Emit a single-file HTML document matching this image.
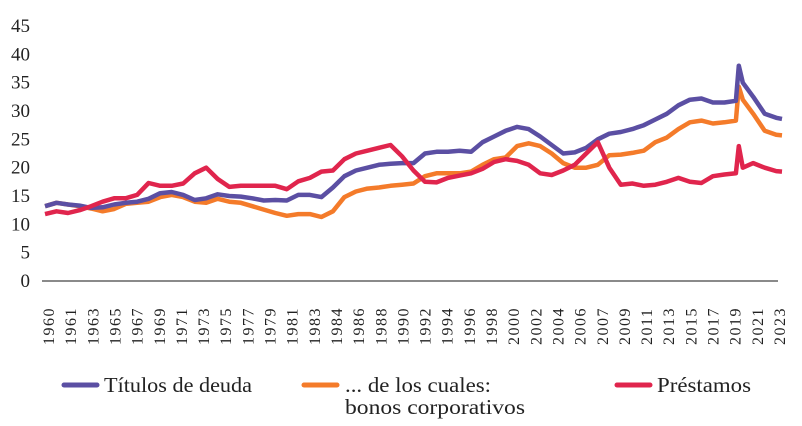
<!DOCTYPE html>
<html><head><meta charset="utf-8"><style>
body{margin:0;background:#fff;}
svg{display:block;font-family:"Liberation Serif",serif;}
</style></head><body>
<svg id="chart" width="802" height="426" viewBox="0 0 802 426">
<g id="yaxis"></g>
<g id="xaxis"></g>
<line x1="42" y1="281" x2="778" y2="281" stroke="#8a8a8a" stroke-width="2"/>
<g id="series"></g>
<g font-size="21" fill="#222">
<g>
<line x1="64" y1="385" x2="97" y2="385" stroke="#5b4fa3" stroke-width="5" stroke-linecap="round"/>
<text x="104" y="392" textLength="148" lengthAdjust="spacingAndGlyphs">Títulos de deuda</text></g>
<g>
<line x1="304" y1="385" x2="337" y2="385" stroke="#f47b2a" stroke-width="5" stroke-linecap="round"/>
<text x="345" y="392" textLength="146" lengthAdjust="spacingAndGlyphs">... de los cuales:</text>
<text x="345" y="414" textLength="180" lengthAdjust="spacingAndGlyphs">bonos corporativos</text></g>
<g>
<line x1="617" y1="385" x2="650" y2="385" stroke="#e0254d" stroke-width="5" stroke-linecap="round"/>
<text x="657" y="392" textLength="94" lengthAdjust="spacingAndGlyphs">Préstamos</text></g>
</g>
</svg>
<script>
const yTicks=[0,5,10,15,20,25,30,35,40,45];
const xLabels=["1960","1961","1963","1965","1967","1969","1971","1973","1975","1977","1979","1981","1983","1984","1986","1988","1990","1992","1994","1996","1998","2000","2002","2004","2006","2007","2009","2011","2013","2015","2017","2019","2021","2023"];
const years=[1960,1961,1962,1963,1964,1965,1966,1967,1968,1969,1970,1971,1972,1973,1974,1975,1976,1977,1978,1979,1980,1981,1982,1983,1984,1985,1986,1987,1988,1989,1990,1991,1992,1993,1994,1995,1996,1997,1998,1999,2000,2001,2002,2003,2004,2005,2006,2007,2008,2009,2010,2011,2012,2013,2014,2015,2016,2017,2018,2019,2020,2020.25,2020.6,2021.5,2022.5,2023.5,2024];
const titulos=[13.2,13.8,13.5,13.3,12.9,13.0,13.5,13.8,14.0,14.5,15.5,15.7,15.2,14.3,14.6,15.3,15.0,14.9,14.6,14.2,14.3,14.2,15.2,15.2,14.8,16.5,18.5,19.5,20.0,20.5,20.7,20.8,20.8,22.5,22.8,22.8,23.0,22.8,24.5,25.5,26.5,27.2,26.8,25.5,24.0,22.5,22.7,23.5,25.0,26.0,26.3,26.8,27.5,28.5,29.5,31.0,32.0,32.2,31.5,31.5,31.8,38.0,35.0,32.5,29.5,28.8,28.6];
const bonos=[13.2,13.8,13.5,13.2,12.8,12.3,12.7,13.6,13.8,14.0,14.8,15.2,14.8,14.0,13.8,14.5,14.0,13.8,13.2,12.6,12.0,11.5,11.8,11.8,11.3,12.3,14.8,15.8,16.3,16.5,16.8,17.0,17.2,18.5,19.0,19.0,19.0,19.3,20.5,21.5,21.8,23.8,24.3,23.8,22.5,20.8,20.0,20.0,20.5,22.2,22.3,22.6,23.0,24.5,25.3,26.8,28.0,28.3,27.8,28.0,28.3,34.3,32.0,29.5,26.5,25.8,25.7];
const prestamos=[11.8,12.3,12.0,12.5,13.2,14.0,14.6,14.6,15.2,17.3,16.8,16.8,17.2,19.0,20.0,18.0,16.6,16.8,16.8,16.8,16.8,16.2,17.6,18.2,19.3,19.5,21.5,22.5,23.0,23.5,24.0,22.0,19.5,17.5,17.4,18.2,18.6,19.0,19.8,21.0,21.5,21.2,20.5,19.0,18.7,19.5,20.5,22.5,24.5,20.0,17.0,17.2,16.8,17.0,17.5,18.2,17.5,17.3,18.5,18.8,19.0,23.8,20.0,20.8,20.0,19.4,19.3];
const NS="http://www.w3.org/2000/svg";
const xScale=t=>45+(t-1960)/(2024-1960)*(782-45);
const yScale=v=>281-v*(281-26)/45;
const ya=document.getElementById('yaxis');
yTicks.forEach(v=>{
 const t=document.createElementNS(NS,'text');
 
 
 t.setAttribute('x',30);t.setAttribute('y',yScale(v)+6);
 t.setAttribute('text-anchor','end');t.setAttribute('font-size','19');t.setAttribute('fill','#222');
 t.textContent=v;ya.appendChild(t);
});
const xa=document.getElementById('xaxis');
const step=(779-48)/(xLabels.length-1);
xLabels.forEach((l,i)=>{
 const x=48+i*step;
 const t=document.createElementNS(NS,'text');
 
 
 t.setAttribute('transform',`translate(${x+6},345) rotate(-90)`);
 t.setAttribute('font-size','16');t.setAttribute('letter-spacing','1.5');t.setAttribute('fill','#222');
 t.textContent=l;xa.appendChild(t);
});
const sg=document.getElementById('series');
function draw(vals,color,name){
 const p=document.createElementNS(NS,'path');
 
 
 p.setAttribute('d',vals.map((v,i)=>(i?'L':'M')+xScale(years[i]).toFixed(1)+','+yScale(v).toFixed(1)).join(''));
 p.setAttribute('fill','none');p.setAttribute('stroke',color);p.setAttribute('stroke-width','4.5');
 p.setAttribute('stroke-linejoin','round');
 sg.appendChild(p);
}
draw(bonos,'#f47b2a','bonos-line');
draw(titulos,'#5b4fa3','titulos-line');
draw(prestamos,'#e0254d','prestamos-line');
</script>
</body></html>
